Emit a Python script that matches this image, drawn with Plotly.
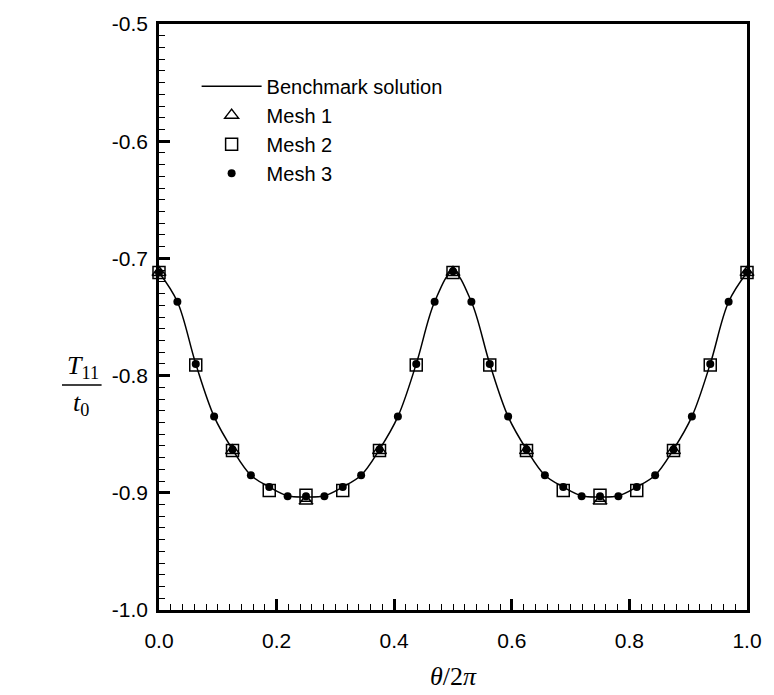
import plotly.graph_objects as go

# ---- data ----
theta_bench = [i / 32 for i in range(33)]
T_bench = [-0.712, -0.737, -0.790, -0.835, -0.863, -0.885, -0.895, -0.9025, -0.9035,
           -0.9025, -0.895, -0.885, -0.863, -0.835, -0.790, -0.737, -0.711,
           -0.737, -0.790, -0.835, -0.863, -0.885, -0.895, -0.9025, -0.9035,
           -0.9025, -0.895, -0.885, -0.863, -0.835, -0.790, -0.737, -0.712]

theta_mesh1 = [0.0, 0.125, 0.25, 0.375, 0.5, 0.625, 0.75, 0.875, 1.0]
T_mesh1 = [-0.712, -0.864, -0.907, -0.864, -0.712, -0.864, -0.907, -0.864, -0.712]

theta_mesh2 = [i / 16 for i in range(17)]
T_mesh2 = [-0.712, -0.791, -0.864, -0.898, -0.902, -0.898, -0.864, -0.791, -0.712,
           -0.791, -0.864, -0.898, -0.902, -0.898, -0.864, -0.791, -0.712]

theta_mesh3 = [i / 32 for i in range(33)]
T_mesh3 = [-0.712, -0.737, -0.790, -0.835, -0.863, -0.885, -0.895, -0.903, -0.903,
           -0.903, -0.895, -0.885, -0.863, -0.835, -0.790, -0.737, -0.711,
           -0.737, -0.790, -0.835, -0.863, -0.885, -0.895, -0.903, -0.903,
           -0.903, -0.895, -0.885, -0.863, -0.835, -0.790, -0.737, -0.712]

x_ticks = [0.0, 0.2, 0.4, 0.6, 0.8, 1.0]
x_ticklabels = ["0.0", "0.2", "0.4", "0.6", "0.8", "1.0"]
y_ticks = [-1.0, -0.9, -0.8, -0.7, -0.6, -0.5]
y_ticklabels = ["-1.0", "-0.9", "-0.8", "-0.7", "-0.6", "-0.5"]

W, H = 774, 695
L, R, T, B = 159, 21, 19, 85
pw, ph = W - L - R, H - T - B

def px(xp):
    return (xp - L) / pw

def py(yp):
    return 1 - (yp - T) / ph

fig = go.Figure()
fig.add_trace(go.Scatter(x=theta_bench, y=T_bench, mode="lines", name="Benchmark solution",
                         line=dict(color="black", width=1.5, shape="spline", smoothing=1.0)))
fig.add_trace(go.Scatter(x=theta_mesh1, y=T_mesh1, mode="markers", name="Mesh 1", cliponaxis=False,
                         marker=dict(symbol="triangle-up-open", size=12, color="black",
                                     line=dict(color="black", width=1.5))))
fig.add_trace(go.Scatter(x=theta_mesh2, y=T_mesh2, mode="markers", name="Mesh 2", cliponaxis=False,
                         marker=dict(symbol="square-open", size=12, color="black",
                                     line=dict(color="black", width=1.5))))
fig.add_trace(go.Scatter(x=theta_mesh3, y=T_mesh3, mode="markers", name="Mesh 3", cliponaxis=False,
                         marker=dict(symbol="circle", size=8, color="black")))

axis_common = dict(showline=True, linewidth=2.5, linecolor="black", mirror=True,
                   ticks="inside", ticklen=11, tickwidth=2.5, tickcolor="black",
                   showgrid=False, zeroline=False,
                   tickfont=dict(family="Liberation Sans, Arial", size=21, color="black"))

fig.update_xaxes(range=[0, 1], tickvals=x_ticks, ticktext=x_ticklabels, ticklabelstandoff=10,
                 minor=dict(dtick=0.02, ticks="inside", ticklen=6, tickwidth=1.2, tickcolor="black"),
                 **axis_common)
fig.update_yaxes(range=[-1.0, -0.5], tickvals=y_ticks, ticktext=y_ticklabels, ticklabelstandoff=4,
                 minor=dict(dtick=0.01, ticks="inside", ticklen=6, tickwidth=1.2, tickcolor="black"),
                 **axis_common)

fig.update_layout(
    width=W, height=H,
    margin=dict(l=L, r=R, t=T, b=B),
    paper_bgcolor="white", plot_bgcolor="white",
    showlegend=True,
    legend=dict(x=px(197), y=py(62), xanchor="left", yanchor="top",
                bgcolor="rgba(0,0,0,0)", borderwidth=0,
                font=dict(family="Liberation Sans, Arial", size=20, color="black"),
                itemwidth=60, tracegroupgap=0),
    annotations=[
        dict(text="<i>θ</i>/2<i>π</i>", xref="paper", yref="paper", x=0.5, y=py(677),
             xanchor="center", yanchor="middle", showarrow=False,
             font=dict(family="Liberation Serif, Times New Roman", size=26, color="black")),
        dict(text="<i>T</i><sub>11</sub>", xref="paper", yref="paper", x=px(82), y=py(365),
             xanchor="center", yanchor="middle", showarrow=False,
             font=dict(family="Liberation Serif, Times New Roman", size=26, color="black")),
        dict(text="<i>t</i><sub>0</sub>", xref="paper", yref="paper", x=px(80), y=py(402),
             xanchor="center", yanchor="middle", showarrow=False,
             font=dict(family="Liberation Serif, Times New Roman", size=26, color="black")),
    ],
    shapes=[
        dict(type="line", xref="paper", yref="paper", x0=px(61), x1=px(101),
             y0=py(383), y1=py(383), line=dict(color="black", width=1.5)),
    ],
)

fig.write_html("out.html")
